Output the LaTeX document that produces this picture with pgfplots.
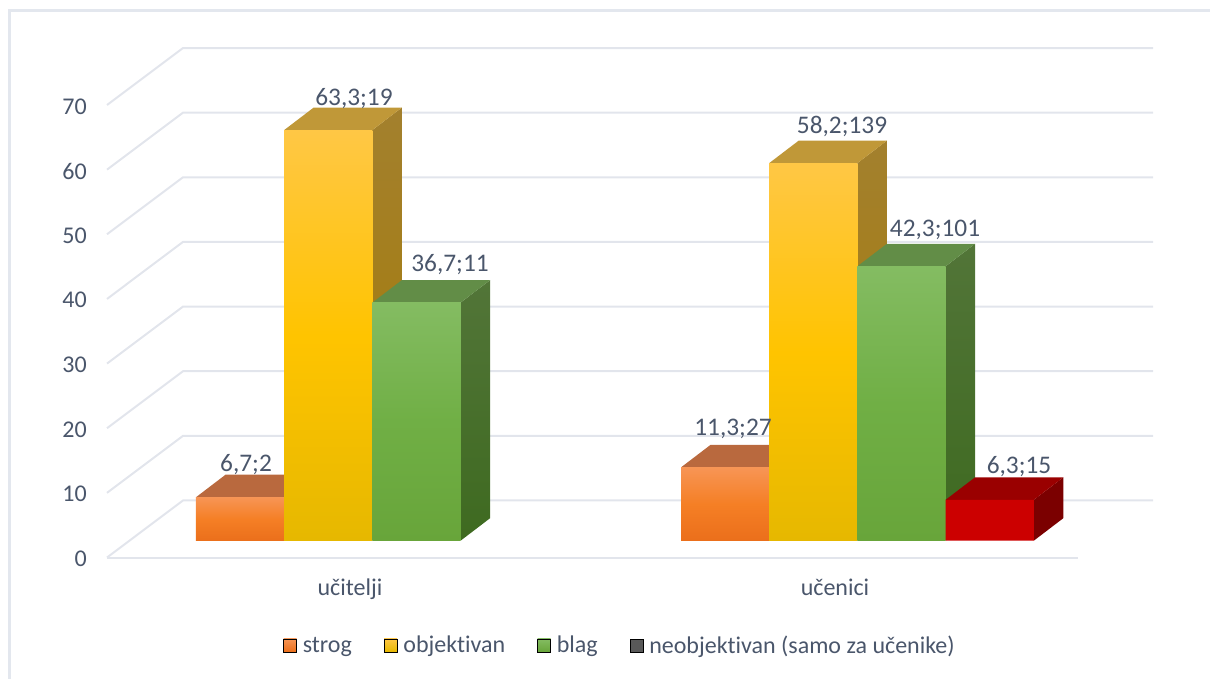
\documentclass[border=0pt]{standalone}
\usepackage{fontspec}
\setmainfont[Ligatures=NoCommon]{Carlito}
\usepackage{pgfplots}
\pgfplotsset{compat=1.18}

\definecolor{labelc}{HTML}{4A566B}
\definecolor{gridc}{HTML}{E2E5EC}
\definecolor{framec}{HTML}{E3E7EE}
\definecolor{orangeT}{HTML}{F79555}
\definecolor{orangeM}{HTML}{F57F25}
\definecolor{orangeB}{HTML}{EB6F1B}
\definecolor{orangeTop}{HTML}{B9693E}
\definecolor{orangeSide}{HTML}{A85C2C}
\definecolor{yellowT}{HTML}{FFC745}
\definecolor{yellowM}{HTML}{FFC400}
\definecolor{yellowB}{HTML}{E6B800}
\definecolor{yellowTop}{HTML}{C09838}
\definecolor{yellowSideT}{HTML}{A3802E}
\definecolor{yellowSideB}{HTML}{A67C00}
\definecolor{greenT}{HTML}{84BC62}
\definecolor{greenM}{HTML}{70AF45}
\definecolor{greenB}{HTML}{68A53A}
\definecolor{greenTop}{HTML}{628D47}
\definecolor{greenSideT}{HTML}{527538}
\definecolor{greenSideB}{HTML}{3E6A20}
\definecolor{redF}{HTML}{CC0000}
\definecolor{redTop}{HTML}{9A0000}
\definecolor{redSide}{HTML}{7B0000}
\definecolor{greyKey}{HTML}{595959}

% bar faces, one style per series (middle color has to come last)
\tikzset{
  strog front/.style={top color=orangeT,bottom color=orangeB,middle color=orangeM},
  strog top/.style={fill=orangeTop},
  strog side/.style={fill=orangeSide},
  obj front/.style={top color=yellowT,bottom color=yellowB,middle color=yellowM},
  obj top/.style={fill=yellowTop},
  obj side/.style={top color=yellowSideT,bottom color=yellowSideB},
  blag front/.style={top color=greenT,bottom color=greenB,middle color=greenM},
  blag top/.style={fill=greenTop},
  blag side/.style={top color=greenSideT,bottom color=greenSideB},
  neobj front/.style={fill=redF},
  neobj top/.style={fill=redTop},
  neobj side/.style={fill=redSide},
}

\newcommand{\labelfont}{\fontsize{18}{21}\selectfont}
\newcommand{\datafont}{\fontsize{19}{21}\selectfont}

% geometry of the fake 3D box, in axis units
\def\barw{0.18186}  % bar width
\def\depx{0.0608}   % bar depth, x part
\def\depy{3.48}     % bar depth, y part
\def\basey{2.6}     % front edge of the bars above the floor line
\def\yk{1.0036}

% #1 group start, #2 slot in group, #3 value, #4 series
\newcommand{\threedbar}[4]{%
  \pgfmathsetmacro\xa{#1+#2*\barw}%
  \pgfmathsetmacro\xb{\xa+\barw}%
  \pgfmathsetmacro\xc{\xa+\depx}%
  \pgfmathsetmacro\xd{\xb+\depx}%
  \pgfmathsetmacro\ya{\basey}%
  \pgfmathsetmacro\yb{\basey+#3*\yk}%
  \pgfmathsetmacro\yc{\ya+\depy}%
  \pgfmathsetmacro\yd{\yb+\depy}%
  \edef\temp{%
    \noexpand\addplot[forget plot,draw=none,#4 side] coordinates {(\xb,\ya) (\xd,\yc) (\xd,\yd) (\xb,\yb) (\xb,\ya)};
    \noexpand\addplot[forget plot,draw=none,#4 top] coordinates {(\xa,\yb) (\xb,\yb) (\xd,\yd) (\xc,\yd) (\xa,\yb)};
    \noexpand\addplot[forget plot,draw=none,#4 front] coordinates {(\xa,\ya) (\xb,\ya) (\xb,\yb) (\xa,\yb) (\xa,\ya)};
  }\temp
}

% #1 value: slanted part on the side wall and line on the back wall
\newcommand{\wallline}[1]{%
  \pgfmathsetmacro\yy{#1+8.82}%
  \edef\temp{\noexpand\addplot[forget plot,gridc,line width=1.5pt] coordinates {(-0.50103,#1) (-0.34433,\yy) (1.65567,\yy)};}\temp
}

\begin{document}
\begin{tikzpicture}
\begin{axis}[
    scale only axis,
    width=907.5pt,
    height=509.25pt,
    xmin=-0.72165, xmax=1.77320,
    ymin=-18.796, ymax=86.247,
    axis line style={draw=none},
    tick style={draw=none},
    xtick={0,1},
    xticklabels={učitelji,učenici},
    ytick={0,10,20,30,40,50,60,70},
    /pgf/number format/assume math mode=true,
    tick label style={font=\labelfont,text=labelc},
    xticklabel style={anchor=base,yshift=63pt},
    yticklabel style={anchor=east,inner sep=0pt,xshift=65.25pt,yshift=-1pt},
    legend columns=4,
    legend cell align=left,
    legend style={
        at={(axis cs:-0.13814,-13.6)},anchor=west,
        draw=none,fill=none,inner sep=0pt,
        font=\labelfont,text=labelc,
        /tikz/every odd column/.append style={column sep=2.5pt},
        /tikz/every even column/.append style={column sep=22pt},
    },
    legend image code/.code={\path[#1] (0pt,-4.875pt) rectangle (9.75pt,4.875pt);},
]
% outer frame, top and left sides only
\addplot[forget plot,framec,line width=2.25pt] coordinates {(-0.70206,-18.796) (-0.70206,84.55) (1.77320,84.55)};

\wallline{0}
\wallline{10}
\wallline{20}
\wallline{30}
\wallline{40}
\wallline{50}
\wallline{60}
\wallline{70}
\addplot[forget plot,gridc,line width=1.5pt] coordinates {(-0.50103,0) (1.50103,0)};

% učitelji
\threedbar{-0.31753}{0}{6.7}{strog}
\threedbar{-0.31753}{1}{63.3}{obj}
\threedbar{-0.31753}{2}{36.7}{blag}
% učenici
\threedbar{0.68247}{0}{11.3}{strog}
\threedbar{0.68247}{1}{58.2}{obj}
\threedbar{0.68247}{2}{42.3}{blag}
\threedbar{0.68247}{3}{6.3}{neobj}

% data labels: percent;count
\begin{scope}[every node/.style={anchor=base,font=\datafont,text=labelc,inner sep=0pt}]
\node at (axis cs:-0.2144,13.27) {6,7;2};
\node at (axis cs:0.0082,70.0) {63,3;19};
\node at (axis cs:0.2062,44.2) {36,7;11};
\node at (axis cs:0.7897,18.95) {11,3;27};
\node at (axis cs:1.0144,65.6) {58,2;139};
\node at (axis cs:1.2062,49.7) {42,3;101};
\node at (axis cs:1.3794,13.0) {6,3;15};
\end{scope}

\addlegendimage{top color=orangeT,bottom color=orangeB}
\addlegendentry{strog}
\addlegendimage{top color=yellowT,bottom color=yellowB}
\addlegendentry{objektivan}
\addlegendimage{top color=greenT,bottom color=greenB}
\addlegendentry{blag}
\addlegendimage{fill=greyKey}
\addlegendentry{neobjektivan (samo za učenike)}
\end{axis}
\end{tikzpicture}
\end{document}
